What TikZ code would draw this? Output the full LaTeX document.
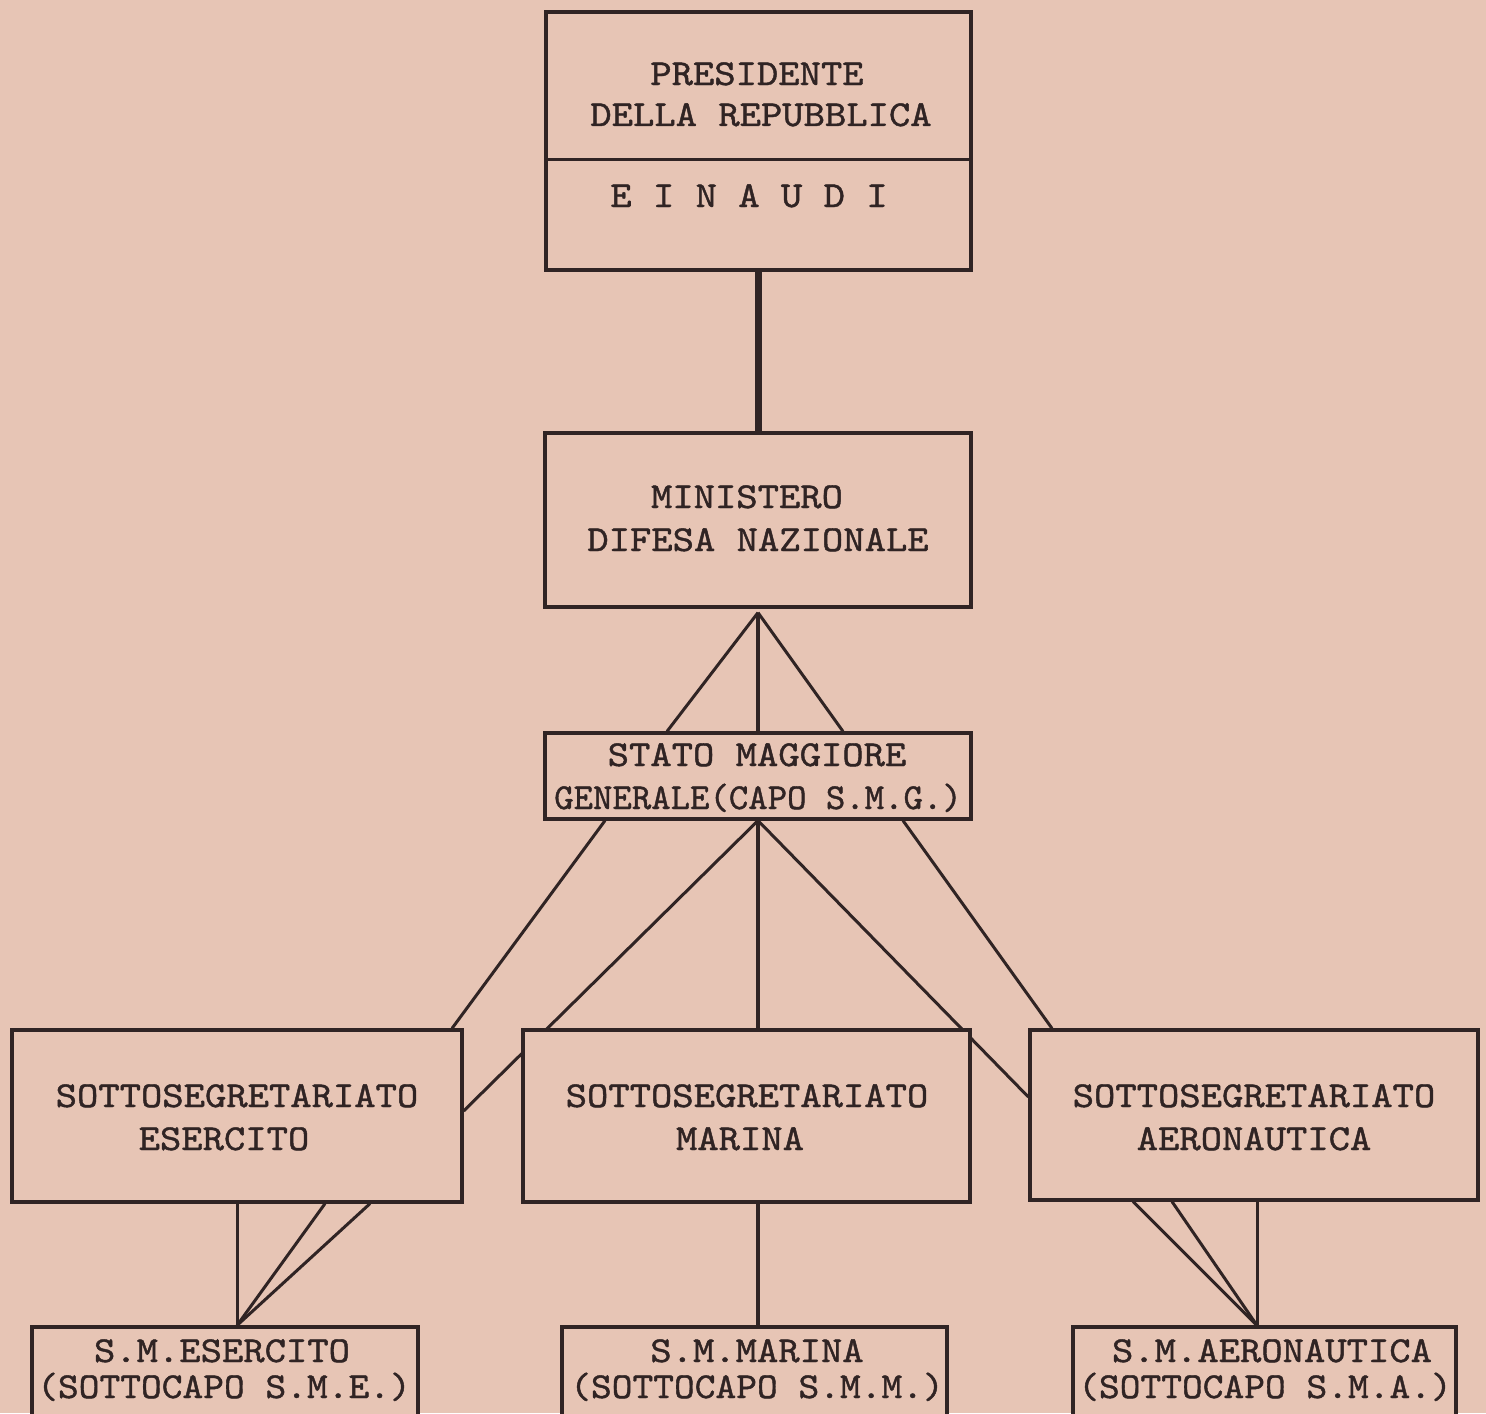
\documentclass[tikz,border=0pt]{standalone}
\usepackage{graphicx}
\usepackage{fontspec}
\newfontfamily\twfont{lmmono10-regular.otf}[FakeBold=1.1]
\usetikzlibrary{calc}
\definecolor{paper}{RGB}{231,197,181}
\definecolor{ink}{RGB}{48,36,36}
\newcommand\sx[2][1.11]{\scalebox{#1}[1]{#2}}
\pgfdeclarelayer{back}
\pgfdeclarelayer{lines}
\pgfsetlayers{back,lines,main}
\begin{document}
\begin{tikzpicture}[x=0.5pt,y=-0.5pt,
  box/.style 2 args={draw=ink, fill=paper, line width=1.6pt, inner sep=0pt,
    minimum width=#1*0.5pt, minimum height=#2*0.5pt},
  lbl/.style={font=\twfont\fontsize{18.3}{22}\selectfont, text=ink, inner sep=0pt, anchor=base},
  link/.style={draw=ink, line width=1.5pt},
  thicklink/.style={draw=ink, line width=3.4pt},
  medlink/.style={draw=ink, line width=2.4pt}]
\useasboundingbox (0,0) rectangle (1486,1413);
\begin{pgfonlayer}{back}
  \fill[paper] (0,0) rectangle (1486,1413);
\end{pgfonlayer}

% boxes
\node[box={425}{258}] (pres) at (758.5,141) {};
\draw[link] (pres.west |- 0,159) -- (pres.east |- 0,159);
\node[box={426}{174}] (min) at (758,520) {};
\node[box={426}{86}] (smg) at (758,776) {};
\node[box={450}{172}] (ses) at (237,1116) {};
\node[box={447}{172}] (smar) at (746.5,1116) {};
\node[box={448}{170}] (saer) at (1254,1115) {};
\node[box={386}{114}] (bes) at (225,1384) {};
\node[box={385}{114}] (bmar) at (754.5,1384) {};
\node[box={383}{114}] (baer) at (1264.5,1384) {};

% labels
\node[lbl] (p1) at (757,85) {\sx{PRESIDENTE}};
\node[lbl] (p2) at (761,126) {\sx{DELLA REPUBBLICA}};
\node[lbl] (p3) at (749,207) {\sx{E I N A U D I}};
\node[lbl] (m1) at (747,508) {\sx{MINISTERO}};
\node[lbl] (m2) at (758,551) {\sx{DIFESA NAZIONALE}};
\node[lbl] (g1) at (757,766) {\sx{STATO MAGGIORE}};
\node[lbl] (g2) at (758,809) {\sx[1.01]{GENERALE(CAPO S.M.G.)}};
\node[lbl] (e1) at (237,1107) {\sx{SOTTOSEGRETARIATO}};
\node[lbl] (e2) at (224,1150) {\sx{ESERCITO}};
\node[lbl] (r1) at (747,1107) {\sx{SOTTOSEGRETARIATO}};
\node[lbl] (r2) at (740,1150) {\sx{MARINA}};
\node[lbl] (a1) at (1254,1107) {\sx{SOTTOSEGRETARIATO}};
\node[lbl] (a2) at (1254,1150) {\sx{AERONAUTICA}};
\node[lbl] (be1) at (222,1362) {\sx{S.M.ESERCITO}};
\node[lbl] (be2) at (224,1398) {\sx[1.08]{(SOTTOCAPO S.M.E.)}};
\node[lbl] (bm1) at (757,1362) {\sx{S.M.MARINA}};
\node[lbl] (bm2) at (757,1398) {\sx[1.08]{(SOTTOCAPO S.M.M.)}};
\node[lbl] (ba1) at (1272,1362) {\sx{S.M.AERONAUTICA}};
\node[lbl] (ba2) at (1265,1398) {\sx[1.08]{(SOTTOCAPO S.M.A.)}};

% connectors
\begin{pgfonlayer}{lines}
  \draw[thicklink] (pres.south) -- (pres.south |- min.north);
  % fan from ministero to stato maggiore
  \coordinate (apex) at ([yshift=-2pt]min.south);
  \draw[link] (apex) -- ([xshift=-45.5pt]smg.north);
  \draw[medlink] (apex) -- (apex |- smg.north);
  \draw[link] (apex) -- ([xshift=42.5pt]smg.north);
  % from stato maggiore to sottosegretariati
  \draw[link] ([xshift=-76.5pt]smg.south) -- ([xshift=107.5pt]ses.north);
  \draw[link] (smg.south) -- ([yshift=2.5pt]ses.east);
  \draw[medlink] (smg.south) -- (smg.south |- smar.north);
  \draw[link] (smg.south) -- ([yshift=9pt]saer.west);
  \draw[link] ([xshift=72.5pt]smg.south) -- ([xshift=-101pt]saer.north);
  % esercito
  \coordinate (eapex) at (ses.south |- bes.north);
  \draw[link] (ses.south) -- (eapex);
  \draw[link] ([xshift=44pt]ses.south) -- (eapex);
  \draw[link] ([xshift=66.5pt]ses.south) -- (eapex);
  % marina
  \draw[medlink] ([xshift=5.75pt]smar.south) -- ([xshift=5.75pt]smar.south |- bmar.north);
  % aeronautica
  \coordinate (aapex) at ([xshift=1.5pt]saer.south |- baer.north);
  \draw[link] ([xshift=1.5pt]saer.south) -- (aapex);
  \draw[link] ([xshift=-60.5pt]saer.south) -- (aapex);
  \draw[link] ([xshift=-41pt]saer.south) -- (aapex);
\end{pgfonlayer}
\end{tikzpicture}
\end{document}
